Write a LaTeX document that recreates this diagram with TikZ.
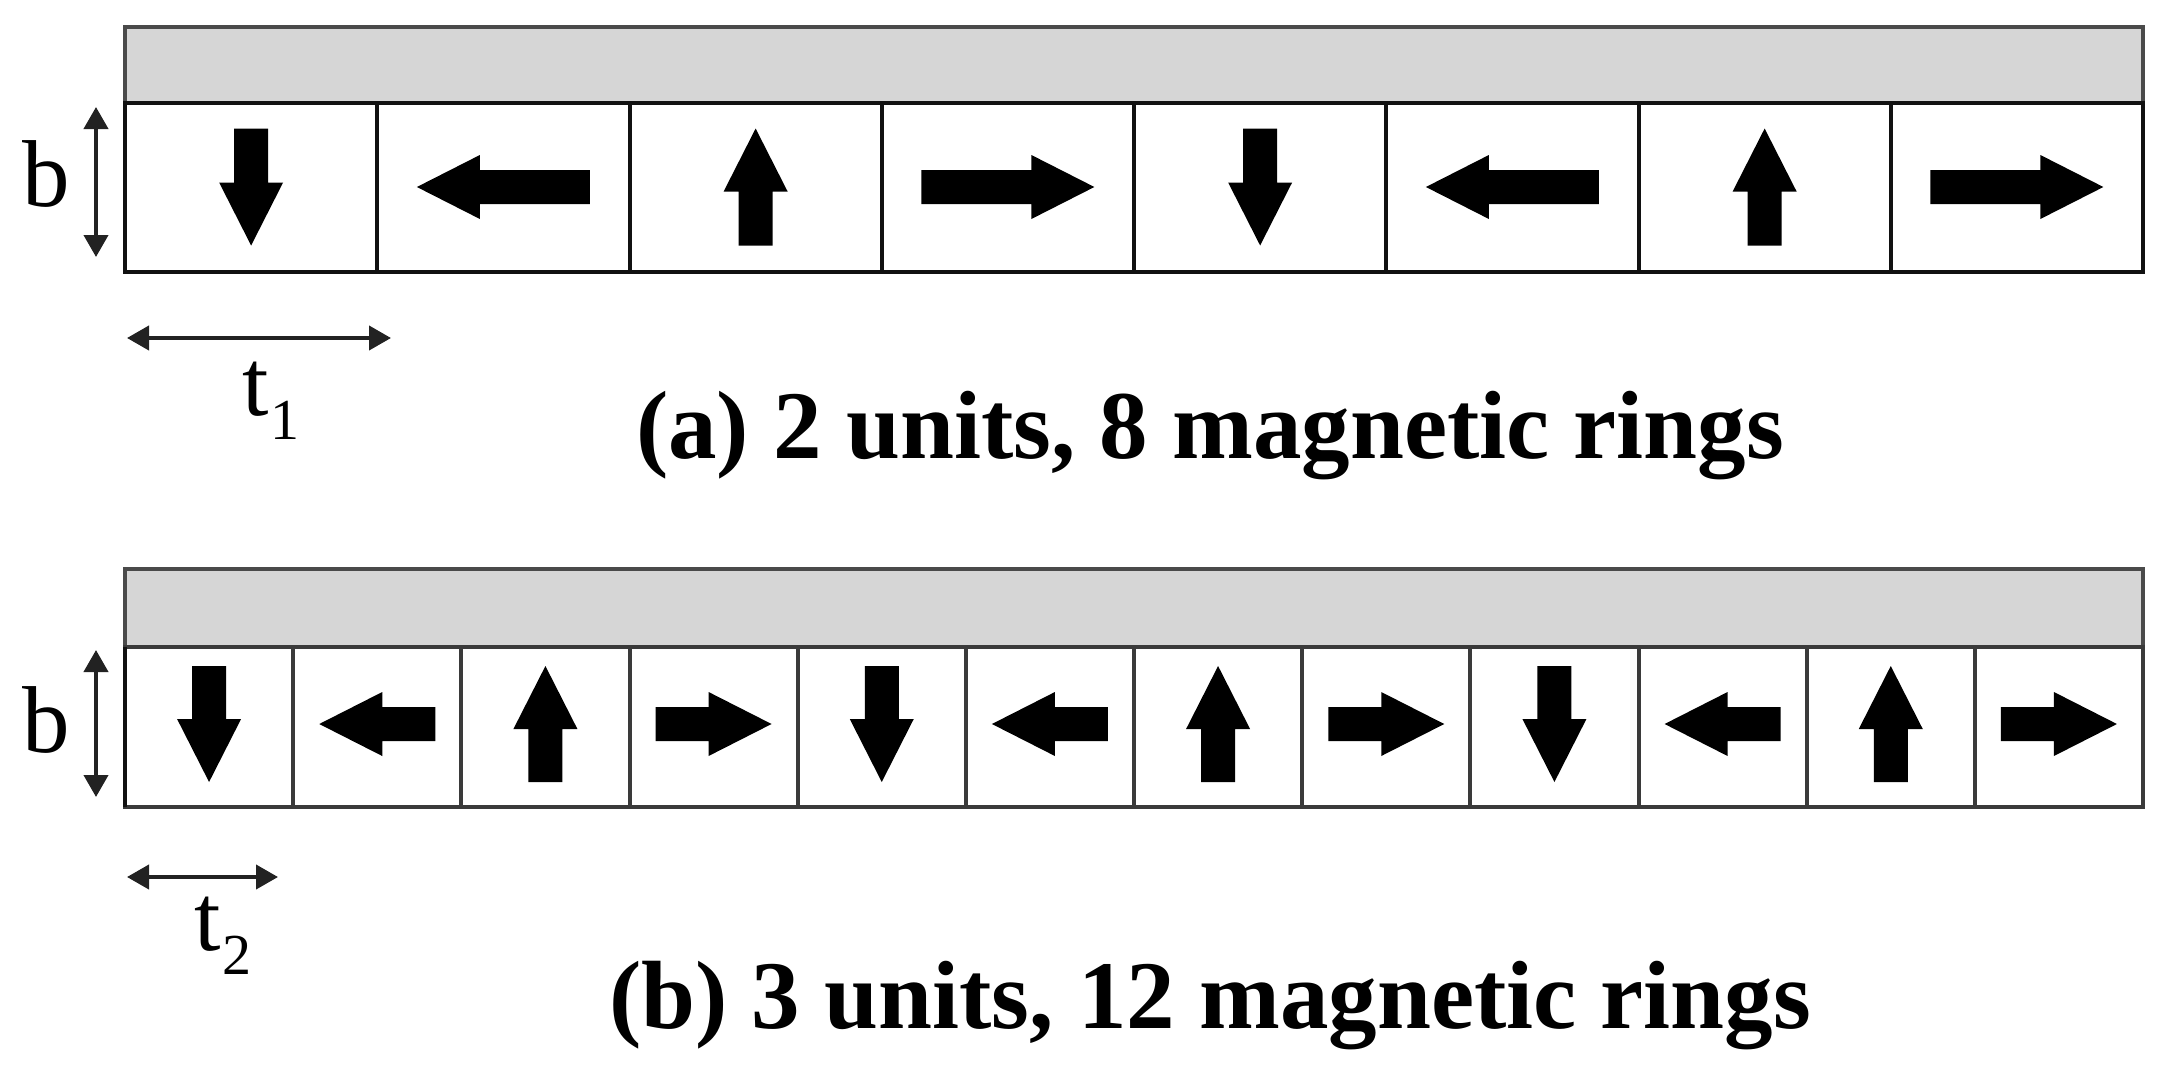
\documentclass[tikz,border=0pt]{standalone}
\usepackage{fontspec}
\setmainfont{Liberation Serif}
\usetikzlibrary{arrows.meta}
\definecolor{barfill}{HTML}{D6D6D6}
\definecolor{edgeA}{HTML}{111111}
\definecolor{edgeB}{HTML}{3A3A3A}
\definecolor{baredge}{HTML}{4A4A4A}
\definecolor{dimcol}{HTML}{222222}
% block arrow: center x, center y, angle, length
\newcommand\blkarrow[4]{%
  \fill[black, shift={(#1,#2)}, rotate=#3]
    ({-#4/2},-17) -- ({#4/2-63},-17) -- ({#4/2-63},-32) -- ({#4/2},0)
    -- ({#4/2-63},32) -- ({#4/2-63},17) -- ({-#4/2},17) -- cycle;}
\begin{document}
\begin{tikzpicture}[x=1pt,y=-1pt,
  barstyle/.style={fill=barfill, draw=baredge, line width=4pt},
  cellA/.style={draw=edgeA, line width=4pt, fill=white},
  cellB/.style={draw=edgeB, line width=4pt, fill=white},
  dimline/.style={draw=dimcol, line width=4pt,
     {Triangle[length=22pt,width=24pt]}-{Triangle[length=22pt,width=24pt]}},
  lbl/.style={inner sep=0pt, anchor=base, font=\fontsize{95}{100}\selectfont},
  lblw/.style={inner sep=0pt, anchor=base west, font=\fontsize{95}{100}\selectfont},
  capt/.style={inner sep=0pt, anchor=base, font=\fontsize{97}{100}\selectfont\bfseries}]
\useasboundingbox (0,0) rectangle (2175,1076);
\fill[white] (0,0) rectangle (2175,1076);

% ---------- row (a) ----------
\draw[barstyle] (125,27) rectangle (2143,103);
\foreach \i in {0,...,7}{
  \draw[cellA] ({125+\i*252.25},103) rectangle ({125+(\i+1)*252.25},272);
}
\foreach \i/\ang/\len in {0/270/117,1/180/173,2/90/117,3/0/173,4/270/117,5/180/173,6/90/117,7/0/173}{
  \blkarrow{{125+(\i+0.5)*252.25}}{187}{\ang}{\len}
}
\coordinate (ba1) at (96,107);
\coordinate (ba2) at (96,257);
\draw[dimline] (ba1) -- (ba2);
\node[lbl] (blabA) at (46,206) {b};
\coordinate (ta1) at (127,338);
\coordinate (ta2) at (391,338);
\draw[dimline] (ta1) -- (ta2);
\node[lblw] (tlabA) at (242,415) {t\kern2pt\raisebox{-24pt}{\fontsize{58}{58}\selectfont 1}};
\node[capt] (captA) at (1210,458) {(a) 2 units, 8 magnetic rings};

% ---------- row (b) ----------
\draw[barstyle] (125,569) rectangle (2143,647);
\foreach \i in {0,...,11}{
  \draw[cellB] ({125+\i*168.1667},647) rectangle ({125+(\i+1)*168.1667},807);
}
\draw[edgeA, line width=4pt] (125,647) -- (125,807);
\foreach \i/\ang in {0/270,1/180,2/90,3/0,4/270,5/180,6/90,7/0,8/270,9/180,10/90,11/0}{
  \blkarrow{{125+(\i+0.5)*168.1667}}{724}{\ang}{116}
}
\coordinate (bb1) at (96,650);
\coordinate (bb2) at (96,797);
\draw[dimline] (bb1) -- (bb2);
\node[lbl] (blabB) at (46,752) {b};
\coordinate (tb1) at (127,877);
\coordinate (tb2) at (278,877);
\draw[dimline] (tb1) -- (tb2);
\node[lblw] (tlabB) at (194,950) {t\kern2pt\raisebox{-24pt}{\fontsize{58}{58}\selectfont 2}};
\node[capt] (captB) at (1210,1028) {(b) 3 units, 12 magnetic rings};
\end{tikzpicture}
\end{document}
